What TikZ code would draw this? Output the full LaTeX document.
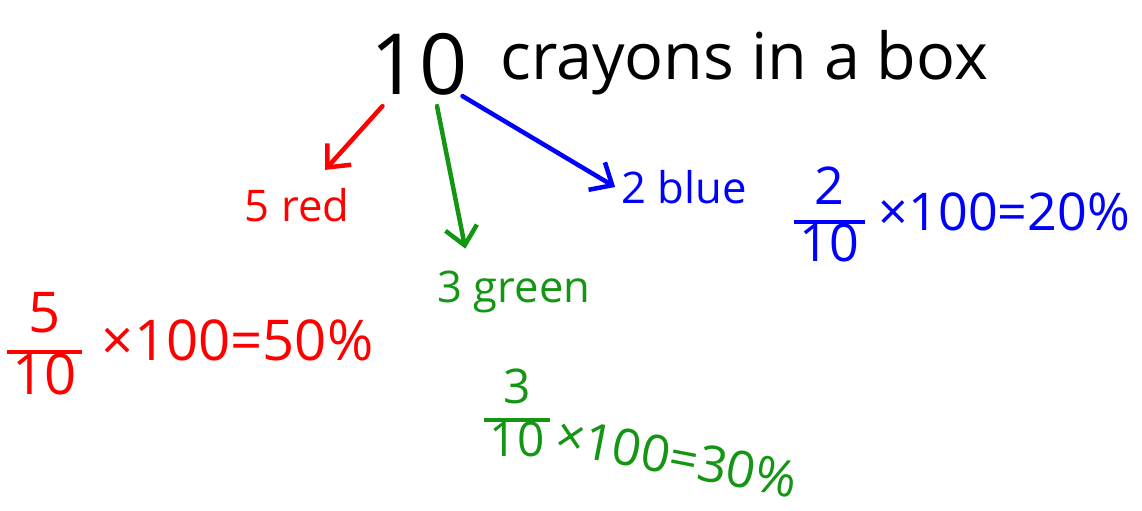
\documentclass[tikz,border=0pt]{standalone}
\usepackage{fontspec}
\setmainfont{Open Sans}
\usepackage{tikz}
\usetikzlibrary{positioning,arrows.meta,calc}
\definecolor{penred}{RGB}{255,0,0}
\definecolor{pengreen}{RGB}{20,150,20}
\definecolor{penblue}{RGB}{0,0,255}
\newcommand{\handfrac}[2]{$\vcenter{\hbox{\setlength{\arrayrulewidth}{2.6pt}\begin{tabular}{@{\hspace{4pt}}c@{\hspace{4pt}}}#1\\\hline #2\end{tabular}}}$}

\begin{document}
\begin{tikzpicture}[x=0.025cm,y=-0.025cm,every node/.style={inner sep=0pt},
  pen/.style={line width=3.2pt,line cap=round,line join=round,-{Straight Barb[length=4.5mm,width=8mm]}},
  big/.style={font=\fontsize{46}{50}\selectfont},
  label/.style={font=\fontsize{31}{34}\selectfont},
  calc/.style={font=\fontsize{#1}{#1}\selectfont}]
  \useasboundingbox (0,0) rectangle (1142,511);
  % title
  \node[font=\fontsize{60}{64}\selectfont,anchor=base] (ten) at (419,95) {10};
  \node[big,anchor=base west] (title) at (500,80) {crayons in a box};
  % the three parts
  \node[label,text=penred] (red) at (297,205) {5 red};
  \node[label,text=pengreen] (green) at (514,292) {3 green};
  \node[label,text=penblue] (blue) at (684,187) {2 blue};
  \draw[pen,penred] ($(ten.south west)+(12,10)$) -- ($(red.north)+(28,-18)$);
  \draw[pen,pengreen] ($(ten.south)+(18,10)$) -- ($(green.north west)+(28,-22)$);
  \draw[pen,penblue] ($(ten.south east)+(-5,0)$) -- ($(blue.west)+(-6,0)$);
  % percentages
  \node[calc=40,text=penred] (redcalc) at (190,352) {\handfrac{5}{10}\hspace{14pt}×100=50\%};
  \node[calc=34,text=pengreen] (greenfrac) at (517,420) {\handfrac{3}{10}};
  \node[calc=36,text=pengreen,rotate=-11,anchor=west] (greencalc) at ($(greenfrac.east)+(6,14)$) {×100=30\%};
  \node[calc=37,text=penblue] (bluecalc) at (962,222) {\handfrac{2}{10}\hspace{10pt}×100=20\%};
\end{tikzpicture}
\end{document}
